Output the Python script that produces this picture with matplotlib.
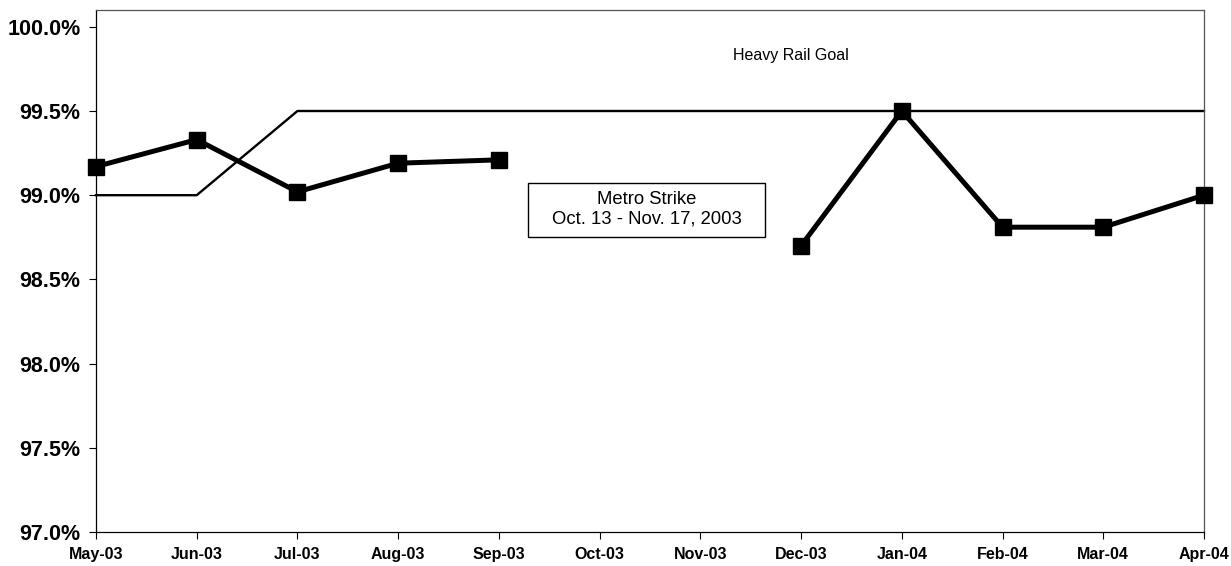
import numpy as np
import matplotlib
matplotlib.use("Agg")
import matplotlib.pyplot as plt
from matplotlib.patches import Rectangle
from matplotlib.ticker import FuncFormatter

plt.rcParams.update({"font.family": ["Liberation Sans", "DejaVu Sans"]})

MONTHS = ["May-03", "Jun-03", "Jul-03", "Aug-03", "Sep-03", "Oct-03",
          "Nov-03", "Dec-03", "Jan-04", "Feb-04", "Mar-04", "Apr-04"]

# on-time performance, % (Oct/Nov missing: Metro strike)
PERFORMANCE = [99.17, 99.33, 99.02, 99.19, 99.21, np.nan,
               np.nan, 98.70, 99.50, 98.81, 98.81, 99.00]

GOAL = [99.0, 99.0, 99.5, 99.5, 99.5, 99.5,
        99.5, 99.5, 99.5, 99.5, 99.5, 99.5]

Y_TICKS = [97.0, 97.5, 98.0, 98.5, 99.0, 99.5, 100.0]

GOAL_LABEL = "Heavy Rail Goal"
STRIKE_NOTE = "Metro Strike\nOct. 13 - Nov. 17, 2003"


fig = plt.figure(figsize=(12.31, 5.66), dpi=100)
ax = fig.add_axes([96 / 1231, 1 - 532 / 566, (1204 - 96) / 1231, (532 - 10) / 566])

x = np.arange(len(MONTHS))

ax.plot(x, GOAL, color="black", linewidth=1.7, clip_on=False, zorder=2)
ax.plot(x, PERFORMANCE, color="black", linewidth=3.6, marker="s",
        markersize=12, clip_on=False, zorder=3)

ax.set_xlim(0, len(MONTHS) - 1)
ax.set_ylim(97.0, 97.0 + (532 - 10) / 168.4)

ax.set_xticks(x)
ax.set_xticklabels(MONTHS, fontsize=11.5, fontweight="bold")
ax.set_yticks(Y_TICKS)
ax.yaxis.set_major_formatter(FuncFormatter(lambda v, _: f"{v:.1f}%"))
for lbl in ax.get_yticklabels():
    lbl.set_fontsize(15.5)
    lbl.set_fontweight("bold")

ax.tick_params(axis="y", direction="out", length=5, width=0.8, pad=6)
ax.tick_params(axis="x", direction="out", length=5, width=0.8, pad=6)

for side in ["top", "right", "left", "bottom"]:
    ax.spines[side].set_linewidth(0.9)
    ax.spines[side].set_color("black")
ax.spines["top"].set_color("#555555")
ax.spines["right"].set_color("#555555")

ax.text(6.9, 99.83, GOAL_LABEL, fontsize=11.5, ha="center", va="center")

# strike note: framed box
ax.add_patch(Rectangle((4.29, 98.75), 2.35, 0.32, facecolor="white",
                       edgecolor="black", linewidth=1.0, zorder=4))
ax.text(5.465, 98.915, STRIKE_NOTE, fontsize=13.3, ha="center", va="center",
        linespacing=1.2, zorder=5)

fig.savefig("out.png", dpi=100)
